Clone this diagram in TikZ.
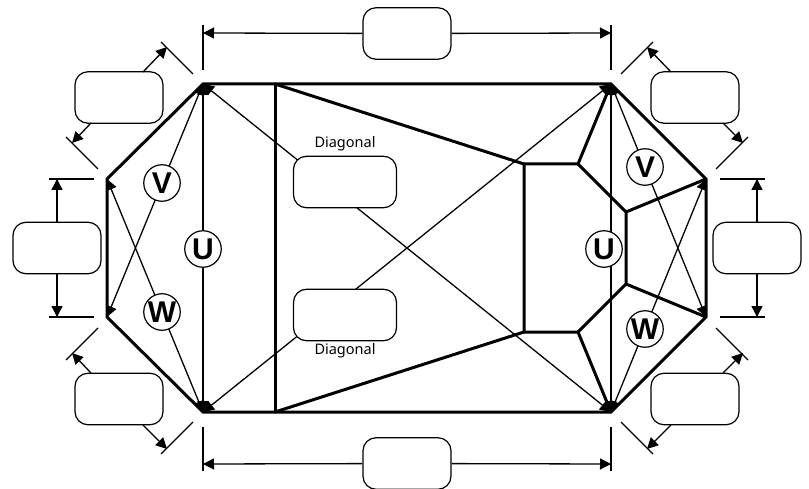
\documentclass[tikz,border=0pt]{standalone}
\usepackage{fontspec}
\setmainfont{Liberation Sans}
\newfontfamily\diagfont{Noto Sans}
\usetikzlibrary{arrows.meta,backgrounds}
\tikzset{
  thickline/.style={line width=3pt,line join=miter},
  thinline/.style={line width=1.3pt},
  tipline/.style={line width=1.3pt,{Triangle[length=11pt,width=11pt]}-{Triangle[length=11pt,width=11pt]}},
  dimline/.style={line width=1.3pt,-{Triangle[length=11pt,width=11pt]}},
  tickline/.style={line width=1.3pt},
  labelbox/.style={draw,fill=white,line width=1.2pt,rounded corners=13pt,inner sep=0pt,
    minimum width=88pt,minimum height=51.5pt},
  diagbox/.style={labelbox,minimum width=103pt},
  axis/.style={draw,fill=white,circle,line width=1.2pt,inner sep=0pt,minimum size=36.5pt,
    font=\fontsize{30}{30}\selectfont\bfseries},
  diagtext/.style={inner sep=0pt,font=\diagfont\fontsize{14.5}{14.5}\selectfont}
}
\begin{document}
\begin{tikzpicture}[x=1pt,y=-1pt]
\useasboundingbox (0,0) rectangle (809,489);
% outer octagon
\coordinate (A) at (203,84);
\coordinate (B) at (611,84);
\coordinate (C) at (706,179);
\coordinate (D) at (706,317);
\coordinate (E) at (611,412);
\coordinate (F) at (203,412);
\coordinate (G) at (107,317);
\coordinate (H) at (107,179);
% inner structure
\coordinate (P1) at (275,84);
\coordinate (P2) at (275,412);
\coordinate (Q1) at (524,164);
\coordinate (Q2) at (524,332);
\coordinate (R1) at (578,164);
\coordinate (R2) at (578,332);
\coordinate (S1) at (626,212);
\coordinate (S2) at (626,284);
% dimension ends
\coordinate (tTa) at (203,25); \coordinate (tTb) at (203,70);
\coordinate (tTc) at (611,25); \coordinate (tTd) at (611,70);
\coordinate (dTl) at (203,33); \coordinate (dTr) at (611,33);
\coordinate (tBa) at (203,427); \coordinate (tBb) at (203,471);
\coordinate (tBc) at (611,427); \coordinate (tBd) at (611,471);
\coordinate (dBl) at (203,464); \coordinate (dBr) at (611,464);
\coordinate (tLa) at (49,179); \coordinate (tLb) at (94,179);
\coordinate (tLc) at (49,317); \coordinate (tLd) at (94,317);
\coordinate (dLt) at (57,179); \coordinate (dLb) at (57,317);
\coordinate (tRa) at (720,179); \coordinate (tRb) at (765,179);
\coordinate (tRc) at (720,317); \coordinate (tRd) at (765,317);
\coordinate (dRt) at (757,179); \coordinate (dRb) at (757,317);
% boxes
\node[labelbox] (boxT) at (407,33.5) {};
\node[labelbox] (boxB) at (407,463.5) {};
\node[labelbox] (boxL) at (57,248) {};
\node[labelbox] (boxR) at (757,248) {};
\node[labelbox] (boxTL) at (119,97.5) {};
\node[labelbox] (boxTR) at (695,97.5) {};
\node[labelbox] (boxBL) at (119,399) {};
\node[labelbox] (boxBR) at (695,399) {};
\node[diagbox] (boxD1) at (345,182) {};
\node[diagbox] (boxD2) at (345,315) {};
\node[diagtext] (lblD1) at (345,144) {Diagonal};
\node[diagtext] (lblD2) at (345,351) {Diagonal};
% axis circles
\node[axis] (V1) at (162,183) {V};
\node[axis] (W1) at (162,312) {W};
\node[axis] (U1) at (203,249) {U};
\node[axis] (U2) at (604,249) {U};
\node[axis] (V2) at (645,167) {V};
\node[axis] (W2) at (645,329) {W};
\begin{scope}[on background layer]
  \draw[tipline] (A) -- (F);
  \draw[tipline] (B) -- (E);
  \draw[tipline] (A) -- (G);
  \draw[tipline] (H) -- (F);
  \draw[tipline] (B) -- (D);
  \draw[tipline] (E) -- (C);
  \draw[tipline] (A) -- (E);
  \draw[tipline] (F) -- (B);
  \draw[thickline] (A) -- (B) -- (C) -- (D) -- (E) -- (F) -- (G) -- (H) -- cycle;
  \draw[thickline] (P1) -- (P2);
  \draw[thickline] (P1) -- (Q1) -- (Q2) -- (P2);
  \draw[thickline] (B) -- (R1) -- (Q1);
  \draw[thickline] (E) -- (R2) -- (Q2);
  \draw[thickline] (R1) -- (S1) -- (S2) -- (R2);
  \draw[thickline] (C) -- (S1);
  \draw[thickline] (D) -- (S2);
\end{scope}
% ticks
\foreach \a/\b in {tTa/tTb,tTc/tTd,tBa/tBb,tBc/tBd,tLa/tLb,tLc/tLd,tRa/tRb,tRc/tRd}
  \draw[tickline] (\a) -- (\b);
\coordinate (k1a) at (161,42); \coordinate (k1b) at (193,74);
\coordinate (k2a) at (66,137); \coordinate (k2b) at (98,169);
\coordinate (k3a) at (653,42); \coordinate (k3b) at (621,74);
\coordinate (k4a) at (748,137); \coordinate (k4b) at (716,169);
\coordinate (k5a) at (98,328); \coordinate (k5b) at (66,360);
\coordinate (k6a) at (193,422); \coordinate (k6b) at (161,454);
\coordinate (k7a) at (716,328); \coordinate (k7b) at (748,360);
\coordinate (k8a) at (621,422); \coordinate (k8b) at (653,454);
\foreach \i in {1,...,8} \draw[tickline] (k\i a) -- (k\i b);
% dimension arrows
\draw[dimline] (boxT) -- (dTl);
\draw[dimline] (boxT) -- (dTr);
\draw[dimline] (boxB) -- (dBl);
\draw[dimline] (boxB) -- (dBr);
\draw[dimline] (boxL) -- (dLt);
\draw[dimline] (boxL) -- (dLb);
\draw[dimline] (boxR) -- (dRt);
\draw[dimline] (boxR) -- (dRb);
\coordinate (s1) at (143,72); \coordinate (e1) at (167,47);
\coordinate (s2) at (91,123); \coordinate (e2) at (72,143);
\coordinate (s3) at (671,72); \coordinate (e3) at (647,47);
\coordinate (s4) at (723,123); \coordinate (e4) at (743,143);
\coordinate (s5) at (91,373); \coordinate (e5) at (72,353);
\coordinate (s6) at (143,425); \coordinate (e6) at (167,449);
\coordinate (s7) at (723,373); \coordinate (e7) at (743,353);
\coordinate (s8) at (671,425); \coordinate (e8) at (647,449);
\foreach \i in {1,...,8} \draw[dimline] (s\i) -- (e\i);
\end{tikzpicture}
\end{document}
